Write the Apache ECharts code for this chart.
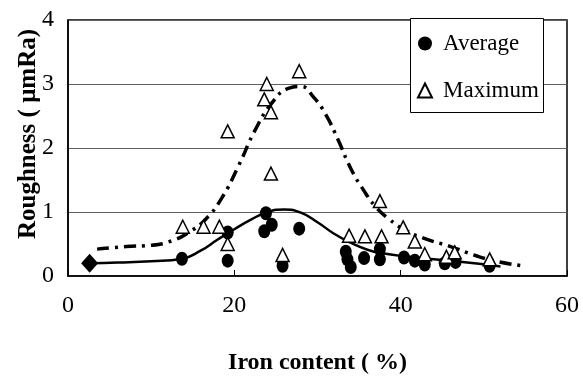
<!DOCTYPE html>
<html>
<head>
<meta charset="utf-8">
<script src="https://cdn.jsdelivr.net/npm/echarts@6/dist/echarts.min.js"></script>
<style>
html,body{margin:0;padding:0;background:#fff;}
#chart{width:583px;height:380px;}
</style>
</head>
<body>
<div id="chart"></div>
<script>
// Average roughness points (iron %, roughness)
var avgX = [13.7, 19.2, 19.2, 23.8, 23.6, 24.5, 27.8, 25.8, 33.4, 33.6, 34.0, 35.6, 37.5, 37.5, 40.4, 41.7, 42.9, 45.3, 46.6, 50.7];
var avgY = [0.27, 0.24, 0.68, 0.98, 0.70, 0.80, 0.74, 0.16, 0.38, 0.26, 0.14, 0.28, 0.42, 0.26, 0.29, 0.24, 0.18, 0.2, 0.22, 0.16];
// Maximum roughness points
var maxX = [13.8, 16.3, 18.2, 19.2, 19.2, 23.9, 23.6, 24.4, 24.4, 27.8, 25.8, 37.5, 33.8, 35.7, 37.7, 40.3, 41.7, 42.9, 45.5, 46.5, 50.7];
var maxY = [0.77, 0.77, 0.77, 0.5, 2.26, 3.0, 2.76, 2.56, 1.6, 3.2, 0.33, 1.17, 0.63, 0.62, 0.62, 0.76, 0.54, 0.34, 0.3, 0.37, 0.26];
// Pure-tin reference point (diamond)
var baseX = [2.6];
var baseY = [0.2];
// Trend line for averages
var avgCurveX = [2.6, 6, 10, 13.7, 16, 18, 20, 22, 24, 26, 28, 30, 32, 34, 36, 38, 41, 44, 48, 52];
var avgCurveY = [0.2, 0.21, 0.23, 0.27, 0.4, 0.57, 0.73, 0.88, 1.0, 1.04, 0.99, 0.84, 0.66, 0.52, 0.41, 0.35, 0.3, 0.26, 0.21, 0.15];
// Trend line for maxima
var maxCurveX = [3.5, 7, 10, 12.5, 14.5, 16.5, 18.5, 20.5, 22.5, 24.5, 26.5, 28, 29.5, 31, 32.5, 34, 35.5, 37, 38.5, 40.5, 43, 46, 49, 51.5, 54.6];
var maxCurveY = [0.42, 0.46, 0.48, 0.55, 0.68, 0.88, 1.22, 1.72, 2.28, 2.7, 2.93, 2.96, 2.8, 2.52, 2.12, 1.68, 1.35, 1.08, 0.9, 0.72, 0.58, 0.46, 0.32, 0.23, 0.16];
// Axis ticks
var xTicks = [0, 20, 40, 60];
var yTicks = [0, 1, 2, 3, 4];

function pairs(xs, ys){ return xs.map(function(x,i){ return [x, ys[i]]; }); }

var serif = '"Liberation Serif","DejaVu Serif",serif';
var chart = echarts.init(document.getElementById('chart'), null, {renderer:'canvas'});
chart.setOption({
  animation: false,
  backgroundColor: '#fff',
  grid: {left: 68, right: 16, top: 20, bottom: 103, show: true, borderColor: '#000', borderWidth: 1.5, backgroundColor: 'transparent'},
  xAxis: {
    type: 'value', min: xTicks[0], max: xTicks[xTicks.length-1], interval: 20,
    name: 'Iron content ( %)', nameLocation: 'middle', nameGap: 75, nameMoveOverlap: false,
    nameTextStyle: {fontFamily: serif, fontWeight: 'bold', fontSize: 24, color: '#000'},
    axisLine: {show: true, lineStyle: {color: '#000', width: 1.5}},
    axisTick: {show: true, inside: true, length: 6, lineStyle: {color: '#000', width: 1}},
    axisLabel: {fontFamily: serif, fontSize: 24, color: '#000', margin: 18},
    splitLine: {show: false}
  },
  yAxis: {
    type: 'value', min: yTicks[0], max: yTicks[yTicks.length-1], interval: 1,
    name: 'Roughness ( μmRa)', nameLocation: 'middle', nameGap: 27, nameMoveOverlap: false,
    nameTextStyle: {fontFamily: serif, fontWeight: 'bold', fontSize: 25, color: '#000', padding: [0,0,0,28]},
    axisLine: {show: true, lineStyle: {color: '#000', width: 1.5}},
    axisTick: {show: false},
    axisLabel: {fontFamily: serif, fontSize: 24, color: '#000', margin: 14},
    splitLine: {show: true, lineStyle: {color: '#606060', width: 1}}
  },
  graphic: [{
    type: 'rect', left: 410, top: 18, z: 10,
    shape: {width: 133, height: 94},
    style: {fill: '#fff', stroke: '#000', lineWidth: 1}
  }],
  legend: {
    left: 417, top: 32, orient: 'vertical', z: 20, itemGap: 24,
    itemWidth: 14, itemHeight: 14, padding: 0,
    data: ['Average', 'Maximum'],
    textStyle: {fontFamily: serif, fontSize: 23, color: '#000', lineHeight: 23, padding: [0, 0, 0, 6]}
  },
  series: [
    {name: 'avgTrend', type: 'line', data: pairs(avgCurveX, avgCurveY), smooth: 0.5, showSymbol: false, silent: true,
     lineStyle: {color: '#000', width: 2.5}, z: 3},
    {name: 'maxTrend', type: 'line', data: pairs(maxCurveX, maxCurveY), smooth: 0.5, showSymbol: false, silent: true,
     lineStyle: {color: '#000', width: 3.5, type: [12, 6, 3, 6], cap: 'butt'}, z: 3},
    {name: 'Average', type: 'scatter', data: pairs(avgX, avgY), symbol: 'circle', symbolSize: [12, 14],
     itemStyle: {color: '#000', opacity: 1}, z: 4},
    {name: 'Maximum', type: 'scatter', data: pairs(maxX, maxY), symbol: 'triangle', symbolSize: [13, 13],
     itemStyle: {color: '#fff', borderColor: '#000', borderWidth: 1.5, opacity: 1}, z: 5},
    {name: 'Base', type: 'scatter', data: pairs(baseX, baseY), symbol: 'diamond', symbolSize: [17, 19],
     itemStyle: {color: '#000', opacity: 1}, z: 6}
  ]
});
</script>
</body>
</html>
